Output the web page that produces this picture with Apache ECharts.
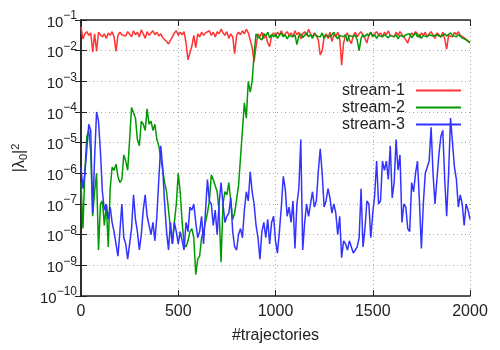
<!DOCTYPE html>
<html>
<head>
<meta charset="utf-8">
<script src="https://cdn.jsdelivr.net/npm/echarts@6/dist/echarts.min.js"></script>
<style>html,body{margin:0;padding:0;background:#fff}#c{width:500px;height:350px}</style>
</head>
<body>
<div id="c"></div>
<script>
// trajectories sampled every 10, from 0 to 2000
const trajStep = 10;
const seriesNames = ['stream-1', 'stream-2', 'stream-3'];
const xTicks = [0, 500, 1000, 1500, 2000];
const yExpTicks = [-10, -9, -8, -7, -6, -5, -4, -3, -2, -1];

// values stored as log10(|lambda_0|^2)
const stream1Log10 = [
-1.22,-1.62,-1.45,-1.38,-1.50,-1.42,-2.05,-1.45,-2.02,-1.40,
-1.48,-1.55,-1.45,-1.60,-1.42,-1.50,-1.38,-1.55,-2.02,-1.50,
-1.40,-1.48,-1.45,-1.52,-1.38,-1.42,-1.55,-1.35,-1.48,-1.40,
-1.55,-1.32,-1.45,-1.60,-1.38,-1.50,-1.42,-1.35,-1.48,-1.40,
-1.52,-1.45,-1.58,-1.62,-1.70,-1.78,-1.72,-1.55,-1.42,-1.35,
-1.50,-1.40,-1.48,-1.38,-1.75,-2.30,-2.35,-1.85,-1.50,-1.90,
-1.45,-1.55,-1.40,-1.50,-1.42,-1.48,-1.35,-1.50,-1.40,-1.55,
-1.38,-1.45,-1.30,-1.42,-1.50,-1.38,-1.60,-1.45,-1.55,-2.10,
-1.50,-1.40,-1.48,-1.35,-1.45,-1.30,-1.42,-1.65,-1.90,-2.37,
-1.85,-1.45,-1.55,-1.40,-1.60,-1.48,-1.75,-1.87,-1.50,-1.42,
-1.55,-1.40,-1.48,-1.35,-1.52,-1.45,-1.38,-1.50,-1.42,-1.55,
-1.35,-1.48,-1.40,-1.62,-1.45,-1.38,-1.50,-1.30,-1.45,-1.55,
-1.42,-1.50,-1.65,-2.14,-2.00,-1.55,-1.45,-1.60,-1.40,-1.70,
-1.48,-1.55,-1.40,-1.58,-2.47,-1.75,-1.50,-1.42,-1.65,-1.77,
-1.50,-1.40,-1.55,-1.45,-1.38,-1.50,-1.60,-1.75,-1.48,-1.40,
-1.52,-1.45,-1.38,-1.50,-1.42,-1.55,-1.40,-1.48,-1.35,-1.50,
-1.45,-1.55,-1.40,-1.50,-1.38,-1.48,-1.55,-1.65,-1.75,-1.55,
-1.42,-1.50,-1.38,-1.45,-1.58,-1.42,-1.50,-1.40,-1.55,-1.45,
-1.38,-1.50,-1.60,-1.42,-1.48,-1.55,-1.40,-1.62,-1.95,-1.50,
-1.45,-1.55,-1.40,-1.48,-1.38,-1.50,-1.45,-1.58,-1.62,-1.68,
-1.72
];

const stream2Log10 = [
-6.3,-7.8,-5.9,-4.8,-4.6,-5.3,-7.4,-6.6,-6.0,-8.5,
-7.0,-6.9,-7.7,-7.0,-8.4,-6.5,-5.8,-5.9,-5.7,-6.1,
-6.3,-6.2,-5.4,-5.6,-5.9,-4.9,-3.85,-3.9,-4.2,-4.9,
-5.1,-4.3,-4.4,-4.6,-3.9,-4.4,-4.3,-4.6,-4.4,-4.9,
-5.1,-5.5,-5.9,-6.3,-6.6,-7.2,-7.8,-8.3,-7.6,-7.0,
-6.0,-6.6,-7.6,-8.3,-8.4,-8.2,-7.9,-7.8,-8.1,-9.3,
-8.8,-8.7,-8.1,-7.9,-7.9,-7.3,-6.9,-6.05,-6.2,-6.2,
-6.6,-7.2,-8.9,-7.0,-6.6,-6.7,-6.3,-6.9,-7.5,-7.3,
-7.3,-6.4,-5.5,-4.6,-3.7,-4.2,-3.0,-3.35,-3.0,-2.1,
-1.45,-1.55,-1.50,-1.65,-1.45,-1.52,-1.40,-1.58,-1.48,-1.55,
-1.45,-1.60,-1.50,-1.42,-1.55,-1.48,-1.62,-1.50,-1.45,-1.55,
-1.48,-1.80,-1.52,-1.45,-1.58,-1.50,-1.42,-1.55,-1.48,-1.60,
-1.45,-1.52,-1.48,-1.55,-1.42,-1.60,-1.50,-1.45,-1.55,-1.48,
-1.40,-1.52,-1.62,-1.50,-1.45,-1.55,-1.48,-1.70,-1.50,-1.45,
-1.55,-1.48,-1.65,-2.00,-1.60,-1.48,-1.55,-1.45,-1.52,-1.40,
-1.55,-1.48,-1.60,-1.50,-1.45,-1.55,-1.48,-1.42,-1.58,-1.50,
-1.45,-1.55,-1.48,-1.62,-1.50,-1.45,-1.55,-1.48,-1.52,-1.45,
-1.58,-1.50,-1.42,-1.55,-1.48,-1.60,-1.50,-1.45,-1.55,-1.48,
-1.42,-1.52,-1.58,-1.48,-1.45,-1.55,-1.50,-1.45,-1.52,-1.48,
-1.42,-1.50,-1.45,-1.55,-1.48,-1.52,-1.58,-1.62,-1.65,-1.70,
-1.75
];

const stream3Log10 = [
-5.8,-6.5,-6.0,-5.2,-4.4,-4.6,-7.3,-5.5,-4.0,-4.3,
-5.3,-6.6,-7.2,-7.0,-7.5,-7.1,-7.6,-7.9,-8.3,-8.7,
-7.9,-7.0,-8.1,-8.3,-8.8,-8.3,-7.8,-6.7,-7.5,-7.9,
-8.5,-8.0,-7.2,-6.7,-7.4,-7.7,-8.0,-7.6,-8.2,-7.4,
-6.2,-5.1,-5.8,-7.0,-7.9,-8.5,-7.6,-8.3,-7.6,-7.9,
-8.3,-7.9,-8.2,-8.5,-7.6,-7.9,-7.1,-7.2,-7.0,-7.6,
-8.1,-7.9,-7.4,-8.3,-8.3,-6.2,-6.9,-7.0,-7.7,-7.2,
-8.0,-7.0,-6.3,-7.0,-7.6,-7.4,-7.3,-6.8,-7.9,-8.4,
-8.5,-8.0,-7.8,-8.1,-7.2,-6.6,-6.9,-5.95,-6.6,-7.0,
-7.7,-8.1,-8.8,-7.9,-7.6,-8.1,-7.5,-8.3,-7.6,-7.4,
-8.2,-8.6,-7.9,-7.1,-6.1,-6.5,-7.4,-7.1,-7.6,-6.9,
-8.45,-7.0,-6.5,-4.9,-8.5,-7.6,-7.0,-7.4,-7.0,-6.6,
-7.1,-6.9,-5.95,-5.2,-6.0,-7.1,-6.9,-6.5,-6.8,-7.3,
-7.0,-7.3,-8.0,-7.4,-8.75,-8.2,-8.3,-8.5,-8.2,-8.4,
-8.6,-8.5,-8.4,-8.1,-6.5,-8.4,-7.8,-6.9,-7.0,-8.1,
-7.3,-6.7,-5.6,-7.0,-6.9,-5.6,-5.9,-5.6,-6.2,-5.1,
-6.8,-6.3,-4.9,-5.9,-5.4,-7.6,-7.0,-7.1,-7.8,-7.9,
-6.3,-6.6,-6.0,-5.6,-6.9,-8.45,-7.0,-6.0,-5.8,-5.6,
-4.5,-6.0,-7.0,-6.2,-5.4,-4.8,-4.6,-6.2,-7.4,-6.0,
-4.2,-5.0,-5.8,-6.2,-7.1,-6.7,-7.0,-7.7,-7.0,-7.2,
-7.5
];

const colors = ['#ff3333', '#009a00', '#3333ff'];
const logSeries = [stream1Log10, stream2Log10, stream3Log10];

function toPairs(arr) {
  return arr.map((e, i) => [i * trajStep, Math.pow(10, e)]);
}

const FONT = 'Liberation Sans';
const axisColor = '#222';

const chart = echarts.init(document.getElementById('c'), null, {renderer: 'canvas'});

const option = {
  animation: false,
  backgroundColor: '#fff',
  textStyle: {fontFamily: FONT},
  grid: {left: 81, top: 20, width: 389, height: 276, containLabel: false},
  legend: {
    orient: 'vertical',
    right: 34,
    top: 77,
    align: 'right',
    icon: 'rect',
    itemWidth: 45,
    itemHeight: 2,
    itemGap: 0,
    data: seriesNames,
    textStyle: {fontFamily: FONT, fontSize: 16, color: '#222', lineHeight: 17, padding: [0, 6, 0, 0]},
    selectedMode: false
  },
  xAxis: [{
    type: 'value', min: xTicks[0], max: xTicks[xTicks.length - 1], interval: 500,
    position: 'bottom',
    name: '#trajectories', nameLocation: 'middle', nameGap: 32,
    nameTextStyle: {fontFamily: FONT, fontSize: 16, color: '#222'},
    axisLine: {show: true, lineStyle: {color: axisColor, width: 1.5}},
    axisTick: {show: true, inside: true, length: 6, lineStyle: {color: axisColor, width: 1}},
    axisLabel: {fontFamily: FONT, fontSize: 16, color: '#222', margin: 8, formatter: v => String(v)},
    splitLine: {show: true, lineStyle: {color: '#aaa', type: [1, 3], width: 1}}
  }, {
    type: 'value', min: xTicks[0], max: xTicks[xTicks.length - 1], interval: 500,
    position: 'top',
    axisLine: {show: true, lineStyle: {color: axisColor, width: 1.5}},
    axisTick: {show: true, inside: true, length: 6, lineStyle: {color: axisColor, width: 1}},
    axisLabel: {show: false},
    splitLine: {show: false}
  }],
  yAxis: [{
    type: 'log', logBase: 10, min: 1e-10, max: 1e-1,
    position: 'left',
    name: '{a||λ}{sub|0}{a||}{sup|2}', nameLocation: 'middle', nameGap: 52, nameRotate: 90,
    nameTextStyle: {
      fontFamily: FONT, color: '#222',
      rich: {
        a: {fontFamily: FONT, fontSize: 16, color: '#222'},
        sub: {fontFamily: FONT, fontSize: 11, color: '#222', verticalAlign: 'bottom', padding: [8, 0, 0, 0]},
        sup: {fontFamily: FONT, fontSize: 11, color: '#222', verticalAlign: 'top', padding: [0, 0, 8, 0]}
      }
    },
    axisLine: {show: true, lineStyle: {color: axisColor, width: 1.5}},
    axisTick: {show: true, inside: true, length: 6, lineStyle: {color: axisColor, width: 1}},
    axisLabel: {
      margin: 4,
      formatter: function (v) {
        const e = Math.round(Math.log10(v));
        return '{b|10}{s|\u2212' + Math.abs(e) + '}';
      },
      rich: {
        b: {fontFamily: FONT, fontSize: 15, color: '#222', verticalAlign: 'bottom'},
        s: {fontFamily: FONT, fontSize: 12, color: '#222', verticalAlign: 'top', padding: [0, 0, 8, 0]}
      }
    },
    splitLine: {show: true, lineStyle: {color: '#aaa', type: [1, 3], width: 1}}
  }, {
    type: 'log', logBase: 10, min: 1e-10, max: 1e-1,
    position: 'right',
    axisLine: {show: true, lineStyle: {color: axisColor, width: 1.5}},
    axisTick: {show: true, inside: true, length: 6, lineStyle: {color: axisColor, width: 1}},
    axisLabel: {show: false},
    splitLine: {show: false}
  }],
  series: logSeries.map((arr, k) => ({
    name: seriesNames[k],
    type: 'line',
    xAxisIndex: 0,
    yAxisIndex: 0,
    data: toPairs(arr),
    symbol: 'none',
    showSymbol: false,
    lineStyle: {color: colors[k], width: 1.5},
    itemStyle: {color: colors[k]},
    z: 2 + k
  }))
};

chart.setOption(option);
</script>
</body>
</html>
